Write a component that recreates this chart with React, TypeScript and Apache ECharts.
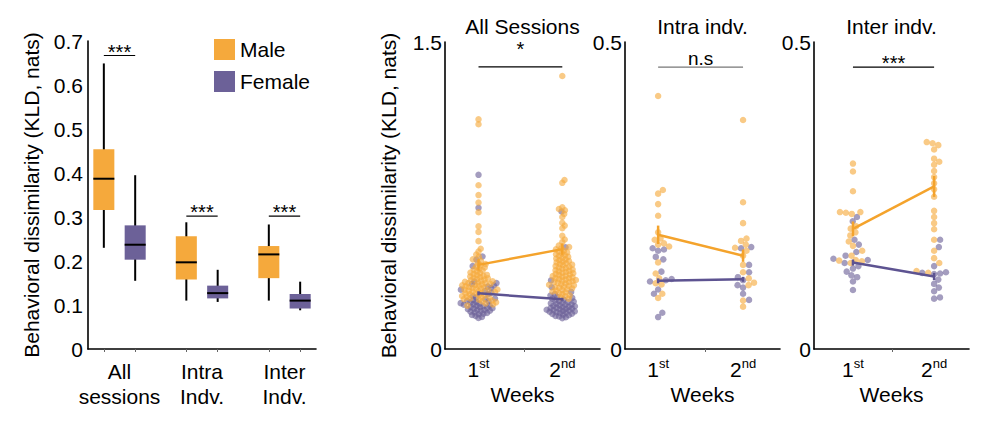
import { useEffect, useRef } from 'react';
import * as echarts from 'echarts';

const MALE = '#F5A93C';
const FEMALE = '#6C6198';
const MALE_LINE = '#F4A32C';
const FEMALE_LINE = '#5D5391';
const FONT = '"Liberation Sans", Arial, sans-serif';

// left panel: box plots, [min, q1, median, q3, max]
const boxGroups = ['All\nsessions', 'Intra\nIndv.', 'Inter\nIndv.'];
const maleBox = [
  [0.23, 0.316, 0.387, 0.454, 0.649],
  [0.11, 0.158, 0.197, 0.256, 0.288],
  [0.11, 0.161, 0.215, 0.234, 0.283],
];
const femaleBox = [
  [0.155, 0.203, 0.237, 0.281, 0.395],
  [0.107, 0.115, 0.127, 0.144, 0.18],
  [0.088, 0.092, 0.11, 0.125, 0.153],
];
const boxSigY = [0.667, 0.302, 0.302];
const boxSigText = ['***', '***', '***'];

// week panels
const weeks = [1, 2];
const weekLabels = ['1', '2'];
const weekSup = ['st', 'nd'];

// All sessions
const allW1Male = [
  1.122, 1.098, 0.8, 0.752, 0.716, 0.668, 0.6, 0.572, 0.527, 0.49, 0.476, 0.462, 0.45, 0.438, 0.43,
  0.421, 0.415, 0.409, 0.404, 0.398,
  0.393, 0.388, 0.384, 0.379, 0.374, 0.371, 0.366, 0.362, 0.361,
  0.357, 0.354, 0.351, 0.348, 0.345, 0.342, 0.339, 0.336, 0.333, 0.331, 0.328, 0.325, 0.322, 0.321,
  0.318, 0.316, 0.313, 0.311, 0.308, 0.306, 0.303, 0.301, 0.298, 0.296, 0.294, 0.291, 0.289, 0.287,
  0.284, 0.282, 0.28,
  0.278, 0.275, 0.272, 0.27, 0.267, 0.264, 0.262, 0.259, 0.256, 0.253, 0.25, 0.247, 0.244, 0.241,
  0.237, 0.233, 0.228, 0.223, 0.218, 0.212,
];
const allW1Female = [
  0.851, 0.69, 0.452, 0.437, 0.405, 0.33, 0.322, 0.317, 0.31, 0.305, 0.298, 0.29, 0.283, 0.276, 0.268,
  0.258, 0.252, 0.247, 0.243, 0.24, 0.236, 0.233, 0.23, 0.227, 0.224, 0.222, 0.219, 0.216, 0.214,
  0.211, 0.209, 0.206, 0.204, 0.201, 0.199, 0.197, 0.194, 0.192, 0.19, 0.187, 0.185, 0.182, 0.179,
  0.176, 0.173, 0.17, 0.166, 0.162, 0.157, 0.152,
];
const allW2Male = [
  1.334, 0.826, 0.812, 0.692, 0.684, 0.678, 0.66, 0.645, 0.617, 0.603, 0.59, 0.553, 0.535, 0.522,
  0.505, 0.498, 0.492, 0.487, 0.481, 0.476, 0.472, 0.467, 0.463, 0.458, 0.454, 0.45, 0.446, 0.442,
  0.438, 0.434, 0.43, 0.427, 0.423, 0.419, 0.416, 0.412, 0.409, 0.405, 0.402, 0.398, 0.395, 0.392,
  0.388, 0.385, 0.382, 0.379, 0.376, 0.373, 0.37, 0.367, 0.364, 0.361, 0.358, 0.356, 0.353, 0.35,
  0.347, 0.345, 0.342, 0.339, 0.337, 0.334, 0.331, 0.328, 0.326, 0.323, 0.32, 0.317, 0.314, 0.311,
  0.308, 0.305, 0.302, 0.299, 0.296, 0.292, 0.289, 0.285, 0.281, 0.277, 0.273, 0.268, 0.263, 0.258,
  0.252, 0.246,
];
const allW2Female = [
  0.672, 0.497, 0.335, 0.302, 0.279, 0.268, 0.261, 0.255, 0.25, 0.246, 0.242, 0.238, 0.235, 0.232,
  0.229, 0.226, 0.223, 0.221, 0.218, 0.216, 0.213, 0.211, 0.209, 0.206, 0.204, 0.202, 0.2, 0.198,
  0.196, 0.194, 0.192, 0.19, 0.188, 0.186, 0.184, 0.182, 0.18, 0.178, 0.176, 0.173, 0.171, 0.168,
  0.165, 0.162, 0.159, 0.155, 0.151,
];
const allMaleMean = [0.411, 0.488];
const allMaleSem = [0.028, 0.028];
const allFemaleMean = [0.272, 0.243];
const allFemaleSem = [0.01, 0.007];

// Intra individual
const intraW1Male = [0.412, 0.259, 0.253, 0.236, 0.217, 0.19, 0.18, 0.178, 0.172, 0.17, 0.167, 0.141, 0.123, 0.115, 0.107, 0.105, 0.09, 0.083];
const intraW1Female = [0.164, 0.162, 0.16, 0.15, 0.146, 0.126, 0.114, 0.112, 0.11, 0.097, 0.09, 0.059, 0.052];
const intraW2Male = [0.373, 0.239, 0.205, 0.18, 0.176, 0.17, 0.165, 0.16, 0.152, 0.137, 0.125, 0.115, 0.108, 0.104, 0.079, 0.069];
const intraW2Female = [0.166, 0.164, 0.137, 0.125, 0.117, 0.112, 0.104, 0.1, 0.09, 0.08];
const intraMaleMean = [0.186, 0.152];
const intraMaleSem = [0.015, 0.01];
const intraFemaleMean = [0.111, 0.1135];
const intraFemaleSem = [0.004, 0.004];

// Inter individual
const interW1Male = [0.302, 0.289, 0.257, 0.223, 0.223, 0.222, 0.22, 0.2, 0.196, 0.19, 0.185, 0.175, 0.168, 0.16, 0.152, 0.145, 0.144, 0.143, 0.14];
const interW1Female = [0.215, 0.208, 0.178, 0.17, 0.158, 0.152, 0.147, 0.145, 0.14, 0.135, 0.131, 0.126, 0.12, 0.117, 0.11, 0.096];
const interW2Male = [0.337, 0.335, 0.332, 0.325, 0.31, 0.305, 0.3, 0.29, 0.28, 0.27, 0.26, 0.248, 0.225, 0.215, 0.205, 0.195, 0.178, 0.16, 0.148, 0.14, 0.127, 0.124];
const interW2Female = [0.178, 0.166, 0.135, 0.125, 0.124, 0.123, 0.122, 0.113, 0.106, 0.1, 0.094, 0.084, 0.082];
const interMaleMean = [0.1957, 0.2647];
const interMaleSem = [0.012, 0.017];
const interFemaleMean = [0.1408, 0.118];
const interFemaleSem = [0.005, 0.006];

// swarm layout (pixel offsets) for one column of values
function swarm(values: number[], pxY: number, gap: number): number[] {
  const order = values.map((_, i) => i).sort((a, b) => values[a] - values[b]);
  const placed: { x: number; y: number }[] = [];
  const out = new Array(values.length).fill(0);
  for (const i of order) {
    const y = values[i] * pxY;
    const cands = [0];
    for (const p of placed) {
      const dy = Math.abs(p.y - y);
      if (dy < gap) {
        const dx = Math.sqrt(gap * gap - dy * dy);
        cands.push(p.x + dx, p.x - dx);
      }
    }
    cands.sort((a, b) => Math.abs(a) - Math.abs(b));
    let chosen = 0;
    for (const c of cands) {
      if (placed.every((p) => (p.x - c) ** 2 + (p.y - y) ** 2 >= gap * gap - 0.01)) {
        chosen = c;
        break;
      }
    }
    placed.push({ x: chosen, y });
    out[i] = chosen;
  }
  return out;
}

const axisText = { color: '#000', fontSize: 21, fontFamily: FONT };
const GRID_H = 307;
const GRID_W = 155;

const panels = [
  {
    title: 'All Sessions', left: 445, xMin: 0.6, xMax: 2.45, midTick: 1.55, yMax: 1.5, gap: 3.6,
    male: [allW1Male, allW2Male], female: [allW1Female, allW2Female],
    maleMean: allMaleMean, maleSem: allMaleSem, femaleMean: allFemaleMean, femaleSem: allFemaleSem,
    sig: '*', sigY: 1.378, sigColor: '#000', sigDy: 8, name: 'Behavioral dissimilarity (KLD, nats)',
  },
  {
    title: 'Intra indv.', left: 625, xMin: 0.61, xMax: 2.435, midTick: 1.55, yMax: 0.5, gap: 6,
    male: [intraW1Male, intraW2Male], female: [intraW1Female, intraW2Female],
    maleMean: intraMaleMean, maleSem: intraMaleSem, femaleMean: intraFemaleMean, femaleSem: intraFemaleSem,
    sig: 'n.s', sigY: 0.459, sigColor: '#777', sigDy: -1, name: '',
  },
  {
    title: 'Inter indv.', left: 814, xMin: 0.52, xMax: 2.43, midTick: 1.48, yMax: 0.5, gap: 6,
    male: [interW1Male, interW2Male], female: [interW1Female, interW2Female],
    maleMean: interMaleMean, maleSem: interMaleSem, femaleMean: interFemaleMean, femaleSem: interFemaleSem,
    sig: '***', sigY: 0.459, sigColor: '#000', sigDy: -6, name: '',
  },
];

const DODGE = 0.19;
const BOX_W = 0.255;

function buildOption() {
  const grid: any[] = [{ left: 88, top: 41, width: 228, height: 308 }];
  const xAxis: any[] = [
    {
      gridIndex: 0, type: 'value', min: -0.382, max: 2.382,
      axisLine: { onZero: false, lineStyle: { color: '#000', width: 1.6 } },
      axisTick: {
        show: true, length: 3, lineStyle: { color: '#666', width: 1 },
        customValues: [0, 1, 2].flatMap((c) => [c - DODGE, c + DODGE]),
      },
      axisLabel: {
        ...axisText, margin: 10, lineHeight: 25, customValues: [0, 1, 2],
        formatter: (v: number) => boxGroups[Math.round(v)],
      },
      splitLine: { show: false },
    },
  ];
  const yAxis: any[] = [
    {
      gridIndex: 0, type: 'value', min: 0, max: 0.7, interval: 0.1,
      axisLine: { show: true, onZero: false, lineStyle: { color: '#000', width: 1.6 } },
      axisTick: { show: false },
      axisLabel: { ...axisText, margin: 5 },
      splitLine: { show: false },
      name: 'Behavioral dissimilarity (KLD, nats)', nameLocation: 'middle', nameGap: 46,
      nameTextStyle: { ...axisText },
    },
  ];

  const boxRender = (color: string, dir: number) => (params: any, api: any) => {
    const c = api.value(0) + dir * DODGE;
    const lo = api.coord([c, api.value(1)]);
    const q1 = api.coord([c, api.value(2)]);
    const md = api.coord([c, api.value(3)]);
    const q3 = api.coord([c, api.value(4)]);
    const hi = api.coord([c, api.value(5)]);
    const hw = api.size([BOX_W, 0])[0] / 2;
    return {
      type: 'group',
      children: [
        { type: 'line', shape: { x1: lo[0], y1: lo[1], x2: hi[0], y2: hi[1] }, style: { stroke: '#000', lineWidth: 2 } },
        { type: 'rect', shape: { x: q3[0] - hw, y: q3[1], width: hw * 2, height: q1[1] - q3[1] }, style: { fill: color } },
        { type: 'line', shape: { x1: md[0] - hw, y1: md[1], x2: md[0] + hw, y2: md[1] }, style: { stroke: '#000', lineWidth: 2 } },
      ],
    };
  };

  const series: any[] = [
    {
      name: 'Male', type: 'custom', xAxisIndex: 0, yAxisIndex: 0, itemStyle: { color: MALE },
      encode: { x: 0, y: [1, 2, 3, 4, 5] },
      data: maleBox.map((b, i) => [i, ...b]),
      renderItem: boxRender(MALE, -1),
    },
    {
      name: 'Female', type: 'custom', xAxisIndex: 0, yAxisIndex: 0, itemStyle: { color: FEMALE },
      encode: { x: 0, y: [1, 2, 3, 4, 5] },
      data: femaleBox.map((b, i) => [i, ...b]),
      renderItem: boxRender(FEMALE, 1),
    },
    {
      type: 'custom', xAxisIndex: 0, yAxisIndex: 0, encode: { x: [0, 1], y: 2 },
      data: boxSigY.map((y, i) => [i - DODGE, i + DODGE, y]),
      renderItem: (params: any, api: any) => {
        const a = api.coord([api.value(0), api.value(2)]);
        const b = api.coord([api.value(1), api.value(2)]);
        return {
          type: 'group',
          children: [
            { type: 'line', shape: { x1: a[0], y1: a[1], x2: b[0], y2: b[1] }, style: { stroke: '#000', lineWidth: 1.2 } },
            {
              type: 'text', x: (a[0] + b[0]) / 2, y: a[1] + 6,
              style: { text: boxSigText[params.dataIndex], font: `20px ${FONT}`, fill: '#000', textAlign: 'center', textVerticalAlign: 'bottom' },
            },
          ],
        };
      },
    },
  ];

  const graphic: any[] = [];

  panels.forEach((p, k) => {
    const gi = k + 1;
    grid.push({ left: p.left, top: 42, width: GRID_W, height: GRID_H });
    xAxis.push({
      gridIndex: gi, type: 'value', min: p.xMin, max: p.xMax,
      axisLine: { onZero: false, lineStyle: { color: '#000', width: 1.6 } },
      axisTick: { show: true, length: 3, lineStyle: { color: '#666', width: 1 }, customValues: [p.midTick] },
      axisLabel: {
        customValues: weeks, margin: 8,
        formatter: (v: number) => {
          const i = Math.round(v) - 1;
          return `{n|${weekLabels[i]}}{s|${weekSup[i]}}`;
        },
        rich: {
          n: { ...axisText, lineHeight: 24 },
          s: { color: '#000', fontFamily: FONT, fontSize: 13, verticalAlign: 'top', lineHeight: 24 },
        },
      },
      splitLine: { show: false },
      name: 'Weeks', nameLocation: 'middle', nameGap: 33, nameTextStyle: { ...axisText },
    });
    yAxis.push({
      gridIndex: gi, type: 'value', min: 0, max: p.yMax, interval: p.yMax,
      axisLine: { show: true, onZero: false, lineStyle: { color: '#000', width: 1.6 } },
      axisTick: { show: false },
      axisLabel: { ...axisText, margin: 3 },
      splitLine: { show: false },
      name: p.name, nameLocation: 'middle', nameGap: 46, nameTextStyle: { ...axisText },
    });

    const pxY = GRID_H / p.yMax;
    const pxX = GRID_W / (p.xMax - p.xMin);
    const maleData: number[][] = [];
    const femaleData: number[][] = [];
    weeks.forEach((w, j) => {
      const m = p.male[j];
      const f = p.female[j];
      const off = swarm([...m, ...f], pxY, p.gap);
      m.forEach((v, i) => maleData.push([w + off[i] / pxX, v]));
      f.forEach((v, i) => femaleData.push([w + off[m.length + i] / pxX, v]));
    });

    const scatter = (data: number[][], color: string) => ({
      type: 'scatter', xAxisIndex: gi, yAxisIndex: gi, data, symbolSize: 6.5, silent: true, z: 2,
      itemStyle: { color, opacity: 0.62 },
    });
    series.push(scatter(femaleData, FEMALE), scatter(maleData, MALE));

    const meanLine = (mean: number[], color: string) => ({
      type: 'line', xAxisIndex: gi, yAxisIndex: gi, symbol: 'none', z: 4,
      data: weeks.map((w, i) => [w, mean[i]]),
      lineStyle: { color, width: 2.5 },
    });
    const errBar = (mean: number[], sem: number[], color: string) => ({
      type: 'custom', xAxisIndex: gi, yAxisIndex: gi, z: 5, encode: { x: 0, y: 1 },
      data: weeks.map((w, i) => [w, mean[i], sem[i]]),
      renderItem: (params: any, api: any) => {
        const a = api.coord([api.value(0), api.value(1) - api.value(2)]);
        const b = api.coord([api.value(0), api.value(1) + api.value(2)]);
        return { type: 'line', shape: { x1: a[0], y1: a[1], x2: b[0], y2: b[1] }, style: { stroke: color, lineWidth: 2.5 } };
      },
    });
    series.push(
      meanLine(p.femaleMean, FEMALE_LINE),
      meanLine(p.maleMean, MALE_LINE),
      errBar(p.femaleMean, p.femaleSem, FEMALE_LINE),
      errBar(p.maleMean, p.maleSem, MALE_LINE),
    );

    series.push({
      type: 'custom', xAxisIndex: gi, yAxisIndex: gi, encode: { x: [0, 1], y: 2 }, clip: false,
      data: [[weeks[0], weeks[1], p.sigY]],
      renderItem: (params: any, api: any) => {
        const a = api.coord([api.value(0), api.value(2)]);
        const b = api.coord([api.value(1), api.value(2)]);
        return {
          type: 'group',
          children: [
            { type: 'line', shape: { x1: a[0], y1: a[1], x2: b[0], y2: b[1] }, style: { stroke: p.sigColor, lineWidth: 1.2 } },
            {
              type: 'text', x: (a[0] + b[0]) / 2, y: a[1] - p.sigDy,
              style: {
                text: p.sig, font: `${p.sig === 'n.s' ? 19 : 20}px ${FONT}`, fill: '#000',
                textAlign: 'center', textVerticalAlign: 'bottom',
              },
            },
          ],
        };
      },
    });

    graphic.push({
      type: 'text', x: p.left + GRID_W / 2, y: 26,
      style: { text: p.title, font: `21px ${FONT}`, fill: '#000', textAlign: 'center', textVerticalAlign: 'middle' },
    });
  });

  return {
    animation: false,
    backgroundColor: '#fff',
    grid,
    xAxis,
    yAxis,
    series,
    graphic,
    legend: {
      orient: 'vertical', left: 209, top: 34, itemWidth: 21, itemHeight: 21, itemGap: 11, icon: 'rect',
      selectedMode: false,
      textStyle: { ...axisText },
      data: [
        { name: 'Male', itemStyle: { color: MALE } },
        { name: 'Female', itemStyle: { color: FEMALE } },
      ],
    },
  };
}

export default function App() {
  const ref = useRef<HTMLDivElement>(null);

  useEffect(() => {
    if (!ref.current) return;
    const chart = echarts.init(ref.current, undefined, { renderer: 'svg' });
    chart.setOption(buildOption() as any);
    return () => chart.dispose();
  }, []);

  return <div ref={ref} style={{ position: 'fixed', left: 0, top: 0, width: 985, height: 435, background: '#fff' }} />;
}
